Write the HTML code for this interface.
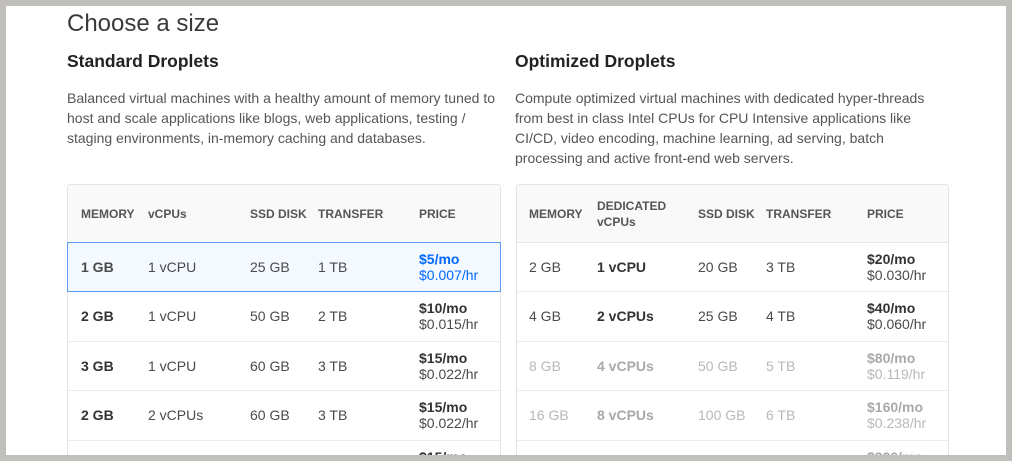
<!DOCTYPE html>
<html><head><meta charset="utf-8">
<style>
html,body{margin:0;padding:0;}
body{width:1012px;height:461px;background:#c0bfbb;position:relative;overflow:hidden;font-family:"Liberation Sans",sans-serif;}
#page{position:absolute;left:6px;top:6px;width:1000px;height:449px;background:#fff;overflow:hidden;}
.abs{position:absolute;white-space:nowrap;}
h1{position:absolute;margin:0;left:61px;top:4px;font-size:24px;line-height:28px;font-weight:normal;color:#3a3a3a;}
.h2{font-size:17.5px;line-height:20px;font-weight:bold;color:#222;}
.p{font-size:14px;line-height:20px;color:#555;}
.tbl{position:absolute;top:178px;height:271px;border:1px solid #e4e4e4;border-bottom:none;border-radius:3px 3px 0 0;box-sizing:border-box;background:#fff;overflow:hidden;}
.hdr{position:absolute;left:0;top:0;right:0;height:57px;background:#f9f9f9;border-bottom:1px solid #e6e6e6;}
.row{position:absolute;left:0;right:0;height:49.6px;border-bottom:1px solid #ececec;box-sizing:border-box;}
.c{position:absolute;top:0;height:100%;display:flex;align-items:center;white-space:nowrap;font-size:14px;line-height:16px;color:#4a4a4a;}
.hc{font-size:12px;font-weight:bold;color:#555;line-height:16px;}
.b{font-weight:bold;color:#333;}
.fade .c{color:#b8b8b8;}
.fade .b{color:#a9a9a9;}
.sel{position:absolute;left:61px;top:236px;width:434px;height:50px;box-sizing:border-box;border:1px solid #5b9bf7;background:#f4f8ff;}
.sel .c{color:#4a4a4a;}
.blue{color:#0069ff !important;}
</style></head>
<body>
<div id="page">
<h1>Choose a size</h1>
<div class="abs h2" style="left:61px;top:45px;">Standard Droplets</div>
<div class="abs p" style="left:61px;top:82px;">Balanced virtual machines with a healthy amount of memory tuned to<br>host and scale applications like blogs, web applications, testing /<br>staging environments, in-memory caching and databases.</div>

<div class="abs h2" style="left:509px;top:45px;">Optimized Droplets</div>
<div class="abs p" style="left:509px;top:82px;">Compute optimized virtual machines with dedicated hyper-threads<br>from best in class Intel CPUs for CPU Intensive applications like<br>CI/CD, video encoding, machine learning, ad serving, batch<br>processing and active front-end web servers.</div>

<!-- Left table -->
<div class="tbl" style="left:61px;width:434px;">
  <div class="hdr">
    <div class="c hc" style="left:13px;">MEMORY</div>
    <div class="c hc" style="left:80px;">vCPUs</div>
    <div class="c hc" style="left:182px;">SSD DISK</div>
    <div class="c hc" style="left:250px;">TRANSFER</div>
    <div class="c hc" style="left:351px;">PRICE</div>
  </div>
  <div class="row" style="top:57px;"></div>
  <div class="row" style="top:107px;">
    <div class="c b" style="left:13px;">2 GB</div>
    <div class="c" style="left:80px;">1 vCPU</div>
    <div class="c" style="left:182px;">50 GB</div>
    <div class="c" style="left:250px;">2 TB</div>
    <div class="c" style="left:351px;"><div><span class="b">$10/mo</span><br>$0.015/hr</div></div>
  </div>
  <div class="row" style="top:156.6px;">
    <div class="c b" style="left:13px;">3 GB</div>
    <div class="c" style="left:80px;">1 vCPU</div>
    <div class="c" style="left:182px;">60 GB</div>
    <div class="c" style="left:250px;">3 TB</div>
    <div class="c" style="left:351px;"><div><span class="b">$15/mo</span><br>$0.022/hr</div></div>
  </div>
  <div class="row" style="top:206.2px;">
    <div class="c b" style="left:13px;">2 GB</div>
    <div class="c" style="left:80px;">2 vCPUs</div>
    <div class="c" style="left:182px;">60 GB</div>
    <div class="c" style="left:250px;">3 TB</div>
    <div class="c" style="left:351px;"><div><span class="b">$15/mo</span><br>$0.022/hr</div></div>
  </div>
  <div class="row" style="top:255.8px;">
    <div class="c b" style="left:13px;">3 GB</div>
    <div class="c" style="left:80px;">2 vCPUs</div>
    <div class="c" style="left:182px;">60 GB</div>
    <div class="c" style="left:250px;">3 TB</div>
    <div class="c" style="left:351px;"><div><span class="b">$15/mo</span><br>$0.022/hr</div></div>
  </div>
</div>
<div class="sel">
  <div class="c b" style="left:13px;">1 GB</div>
  <div class="c" style="left:80px;">1 vCPU</div>
  <div class="c" style="left:182px;">25 GB</div>
  <div class="c" style="left:250px;">1 TB</div>
  <div class="c blue" style="left:351px;"><div><span class="b blue">$5/mo</span><br>$0.007/hr</div></div>
</div>

<!-- Right table -->
<div class="tbl" style="left:510px;width:433px;">
  <div class="hdr">
    <div class="c hc" style="left:12px;">MEMORY</div>
    <div class="c hc" style="left:80px;"><div>DEDICATED<br>vCPUs</div></div>
    <div class="c hc" style="left:181px;">SSD DISK</div>
    <div class="c hc" style="left:249px;">TRANSFER</div>
    <div class="c hc" style="left:350px;">PRICE</div>
  </div>
  <div class="row" style="top:57px;height:50px;">
    <div class="c" style="left:12px;">2 GB</div>
    <div class="c b" style="left:80px;">1 vCPU</div>
    <div class="c" style="left:181px;">20 GB</div>
    <div class="c" style="left:249px;">3 TB</div>
    <div class="c" style="left:350px;"><div><span class="b">$20/mo</span><br>$0.030/hr</div></div>
  </div>
  <div class="row" style="top:107px;">
    <div class="c" style="left:12px;">4 GB</div>
    <div class="c b" style="left:80px;">2 vCPUs</div>
    <div class="c" style="left:181px;">25 GB</div>
    <div class="c" style="left:249px;">4 TB</div>
    <div class="c" style="left:350px;"><div><span class="b">$40/mo</span><br>$0.060/hr</div></div>
  </div>
  <div class="row fade" style="top:156.6px;">
    <div class="c" style="left:12px;">8 GB</div>
    <div class="c b" style="left:80px;">4 vCPUs</div>
    <div class="c" style="left:181px;">50 GB</div>
    <div class="c" style="left:249px;">5 TB</div>
    <div class="c" style="left:350px;"><div><span class="b">$80/mo</span><br>$0.119/hr</div></div>
  </div>
  <div class="row fade" style="top:206.2px;">
    <div class="c" style="left:12px;">16 GB</div>
    <div class="c b" style="left:80px;">8 vCPUs</div>
    <div class="c" style="left:181px;">100 GB</div>
    <div class="c" style="left:249px;">6 TB</div>
    <div class="c" style="left:350px;"><div><span class="b">$160/mo</span><br>$0.238/hr</div></div>
  </div>
  <div class="row fade" style="top:255.8px;">
    <div class="c" style="left:12px;">32 GB</div>
    <div class="c b" style="left:80px;">16 vCPUs</div>
    <div class="c" style="left:181px;">200 GB</div>
    <div class="c" style="left:249px;">7 TB</div>
    <div class="c" style="left:350px;"><div><span class="b">$320/mo</span><br>$0.476/hr</div></div>
  </div>
</div>
</div>
</body></html>
